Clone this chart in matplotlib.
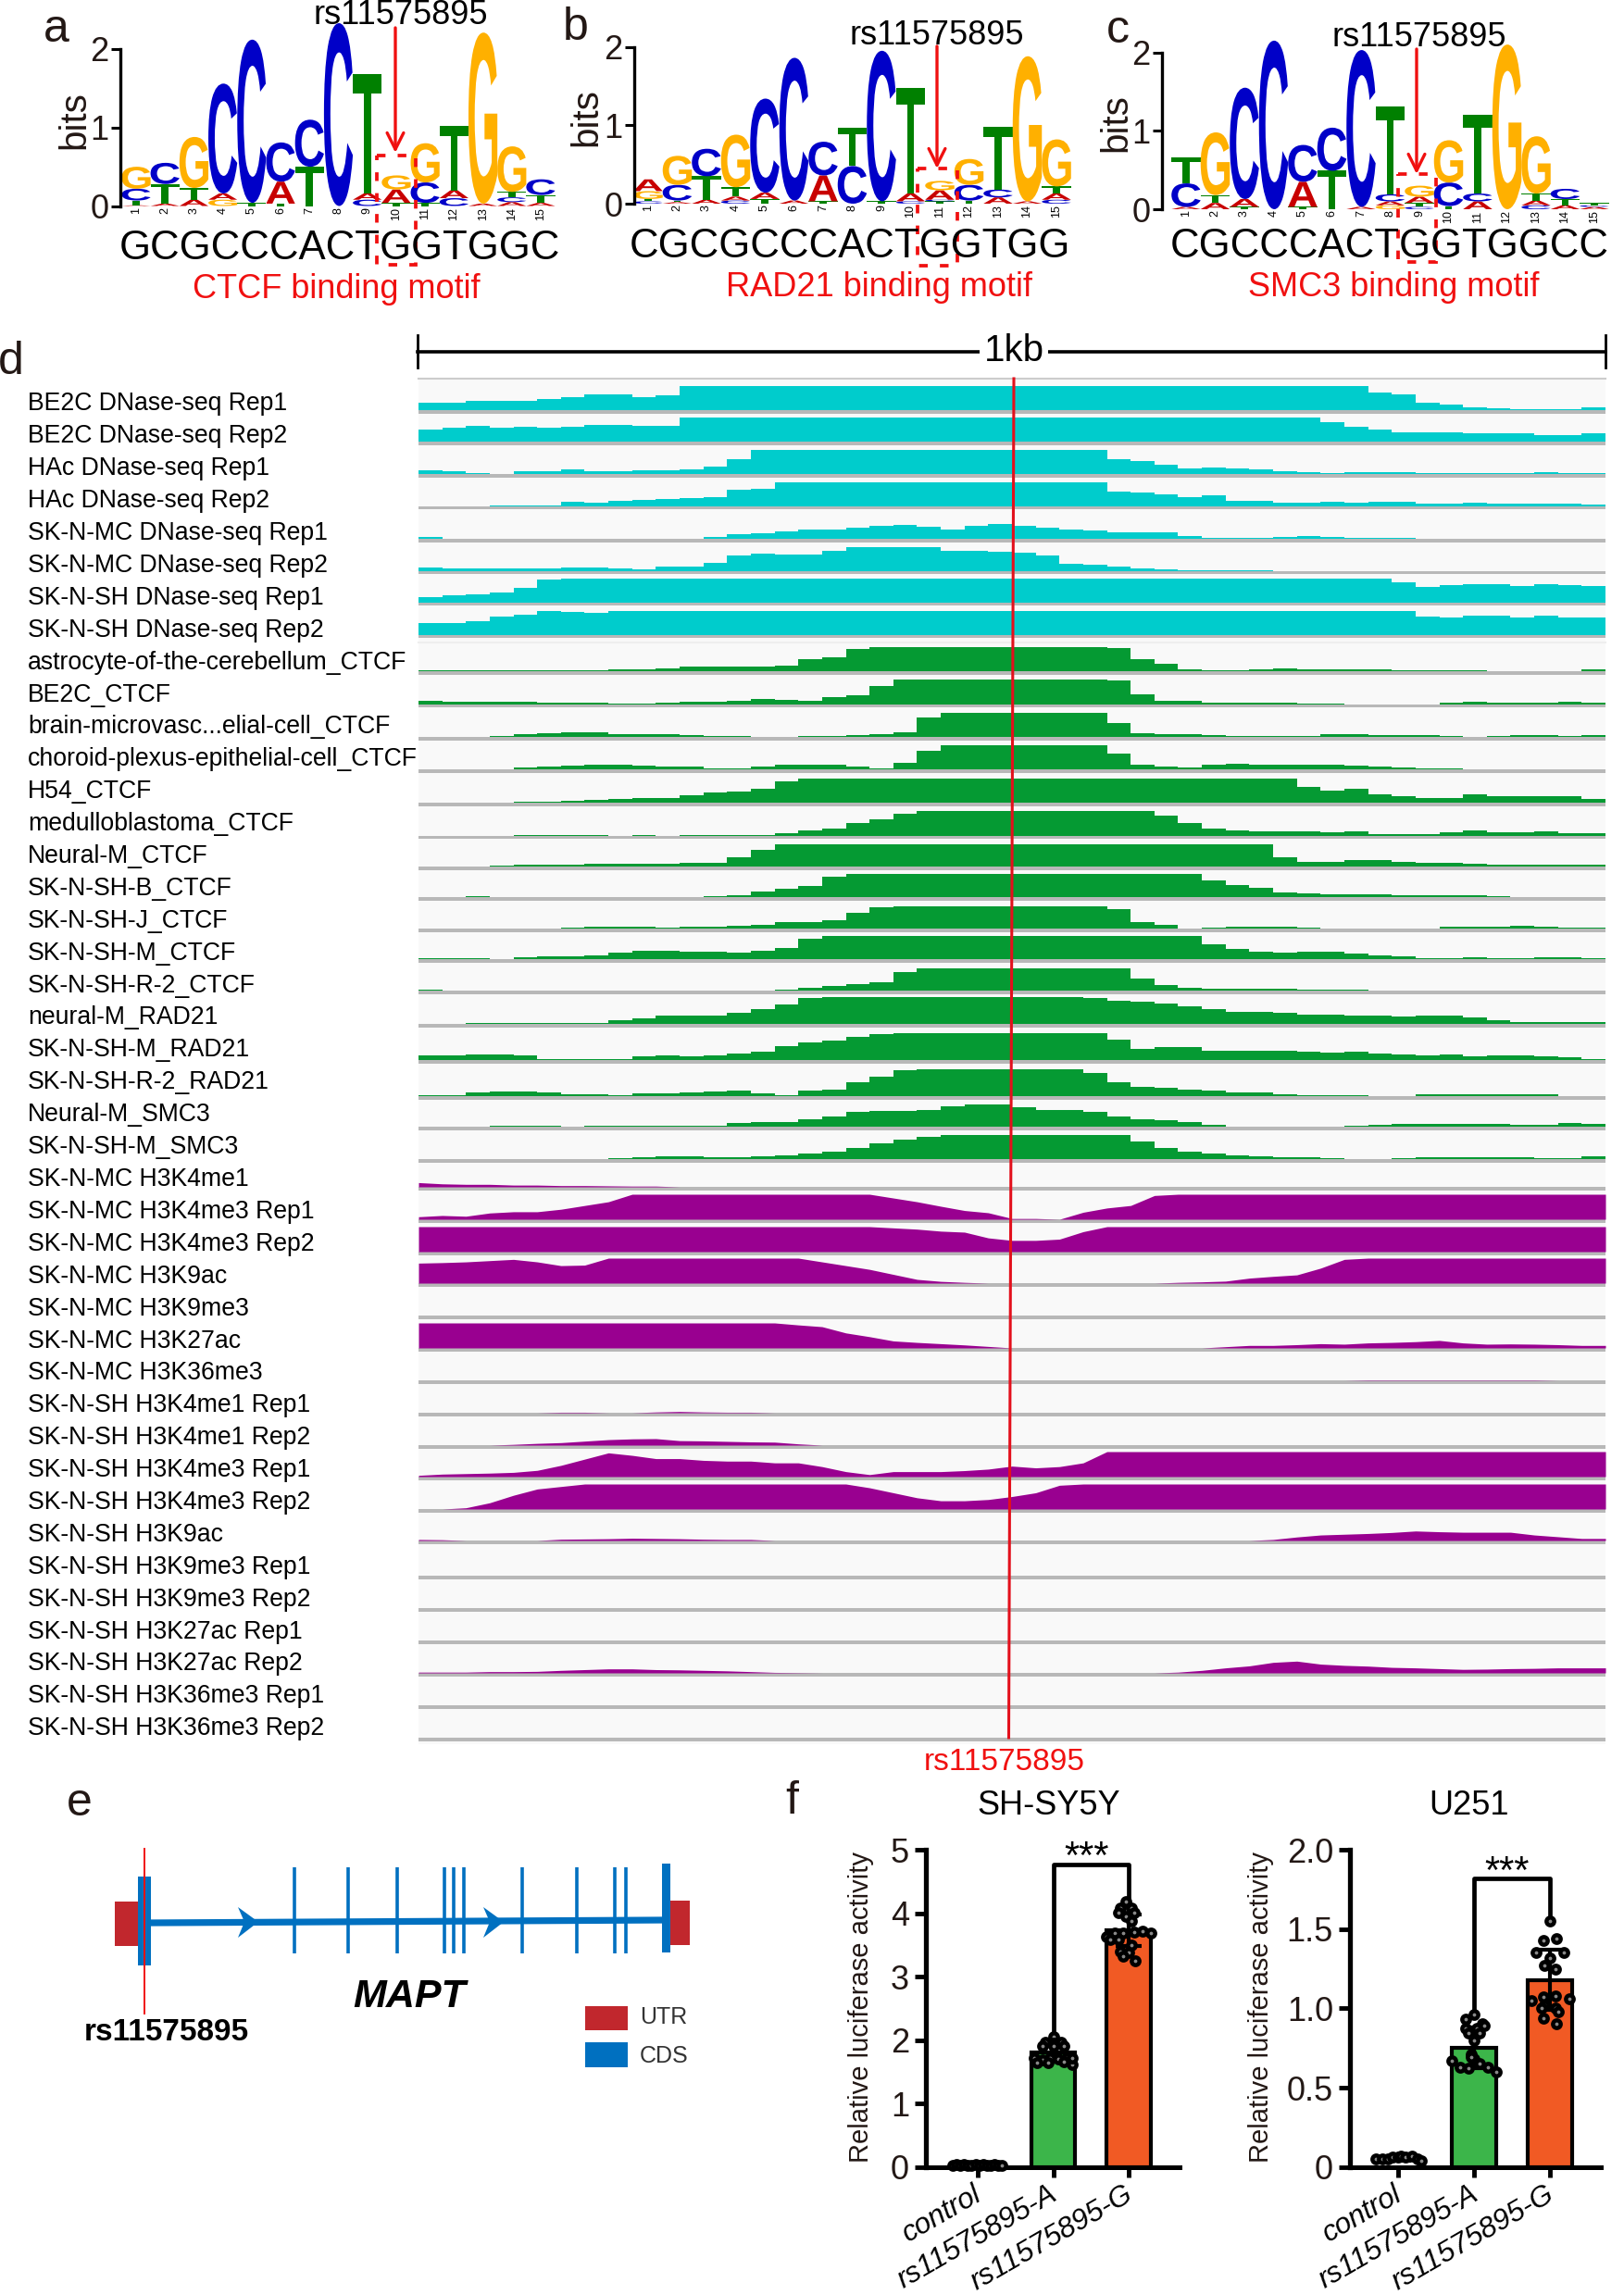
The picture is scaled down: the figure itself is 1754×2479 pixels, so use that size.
import numpy as np
import matplotlib
matplotlib.use("Agg")
import matplotlib.pyplot as plt
from matplotlib.textpath import TextPath
from matplotlib.patches import PathPatch, Rectangle, Polygon
from matplotlib.font_manager import FontProperties
from matplotlib.transforms import Affine2D, ScaledTranslation

plt.rcParams['font.family'] = ['Liberation Sans', 'DejaVu Sans']
W, H = 1754, 2479
F = 1.0

# ---------- motif data (letter, bits), bottom to top ----------
motif_ctcf = [
    [('A',.01),('T',.06),('C',.15),('G',.28)],
    [('A',.03),('T',.25),('C',.27)],
    [('A',.08),('T',.15),('G',.65)],
    [('G',.08),('A',.08),('C',1.4)],
    [('T',.04),('C',2.08)],
    [('T',.03),('A',.28),('C',.5)],
    [('T',.5),('C',.6)],
    [('C',2.33)],
    [('C',.08),('A',.08),('T',1.52)],
    [('T',.04),('A',.17),('G',.18)],
    [('T',.04),('C',.26),('G',.5)],
    [('C',.1),('A',.1),('T',.82)],
    [('A',.03),('G',2.18)],
    [('A',.05),('C',.06),('T',.07),('G',.58)],
    [('A',.04),('T',.1),('C',.2)],
]
motif_rad21 = [
    [('C',.03),('T',.03),('G',.1),('A',.15)],
    [('A',.02),('T',.02),('C',.2),('G',.37)],
    [('A',.05),('T',.3),('C',.35)],
    [('C',.04),('A',.05),('T',.12),('G',.67)],
    [('T',.06),('A',.08),('C',1.2)],
    [('A',.04),('C',1.82)],
    [('T',.03),('A',.33),('C',.43)],
    [('C',.48),('T',.49)],
    [('T',.03),('C',1.92)],
    [('C',.03),('A',.1),('T',1.35)],
    [('T',.03),('C',.02),('A',.12),('G',.12)],
    [('T',.04),('C',.2),('G',.33)],
    [('A',.08),('C',.1),('T',.8)],
    [('A',.03),('G',1.85)],
    [('C',.05),('A',.08),('T',.09),('G',.6)],
]
motif_smc3 = [
    [('A',.03),('C',.3),('T',.33)],
    [('A',.08),('T',.1),('G',.8)],
    [('T',.03),('A',.1),('C',1.42)],
    [('C',2.15)],
    [('T',.03),('A',.32),('C',.47)],
    [('T',.49),('C',.55)],
    [('A',.03),('C',2.0)],
    [('G',.05),('A',.05),('C',.09),('T',1.12)],
    [('C',.03),('T',.05),('A',.08),('G',.14)],
    [('T',.04),('C',.3),('G',.54)],
    [('A',.1),('C',.1),('T',1.0)],
    [('G',2.1)],
    [('C',.05),('A',.06),('T',.09),('G',.73)],
    [('A',.05),('T',.08),('C',.13)],
    [('A',.03),('C',.02),('T',.03)],
]
seq_ctcf = "GCGCCCACTGGTGGC"
seq_rad21 = "CGCGCCCACTGGTGG"
seq_smc3 = "CGCCCACTGGTGGCC"
snp = "rs11575895"
positions = list(range(1, 16))
bit_ticks = [0, 1, 2]
letter_colors = {'A': '#c80000', 'C': '#0000c8', 'G': '#ffb000', 'T': '#008000'}

# ---------- track data (fraction of the track's full height, saturated = F) ----------
track_names = [
 "BE2C DNase-seq Rep1","BE2C DNase-seq Rep2","HAc DNase-seq Rep1","HAc DNase-seq Rep2",
 "SK-N-MC DNase-seq Rep1","SK-N-MC DNase-seq Rep2","SK-N-SH DNase-seq Rep1","SK-N-SH DNase-seq Rep2",
 "astrocyte-of-the-cerebellum_CTCF","BE2C_CTCF","brain-microvasc...elial-cell_CTCF",
 "choroid-plexus-epithelial-cell_CTCF","H54_CTCF","medulloblastoma_CTCF","Neural-M_CTCF",
 "SK-N-SH-B_CTCF","SK-N-SH-J_CTCF","SK-N-SH-M_CTCF","SK-N-SH-R-2_CTCF","neural-M_RAD21",
 "SK-N-SH-M_RAD21","SK-N-SH-R-2_RAD21","Neural-M_SMC3","SK-N-SH-M_SMC3",
 "SK-N-MC H3K4me1","SK-N-MC H3K4me3 Rep1","SK-N-MC H3K4me3 Rep2","SK-N-MC H3K9ac","SK-N-MC H3K9me3",
 "SK-N-MC H3K27ac","SK-N-MC H3K36me3","SK-N-SH H3K4me1 Rep1","SK-N-SH H3K4me1 Rep2",
 "SK-N-SH H3K4me3 Rep1","SK-N-SH H3K4me3 Rep2","SK-N-SH H3K9ac","SK-N-SH H3K9me3 Rep1",
 "SK-N-SH H3K9me3 Rep2","SK-N-SH H3K27ac Rep1","SK-N-SH H3K27ac Rep2","SK-N-SH H3K36me3 Rep1",
 "SK-N-SH H3K36me3 Rep2"]

dnase = [
 [.3,.3,.37,.37,.4,.47,.55,.64,.64,.55,.62]+[F]*29+[.75,.67,.3,.24,.1,.08,.05,.05,.05,.12],
 [.5,.6,.68,.6,.65,.6,.65,.72,.7,.68,.68]+[F]*27+[.82,.65,.5,.4,.4,.4,.35,.35,.38,.27,.27,.35],
 [.14,.1,.04,0,.1,.13,.2,.13,.13,.17,.17,.2,.3,.6]+[F]*15+[.62,.55,.38,.22,.28,.24,.2,.12,.08,.04,.07,.07,.07,.03,.02,.02,.02,.02,.06,.02,.02],
 [0,0,0,.03,.03,.03,.18,.15,.22,.27,.3,.33,.36,.68,.72]+[F]*14+[.62,.55,.5,.38,.46,.22,.22,.15,.15,.17,.15,.2,.17,.12,.12,.15,.12,.12,.1,.1,.05],
 [.06,0,0,0,0,0,0,0,0,0,0,0,.07,.2,.25,.3,.38,.38,.47,.52,.56,.5,.4,.52,.6,.52,.47,.38,.35,.27,.27,.27,.1,.03,.05,.03,.07,.1,.08,.04,.04,.03,0,0,0,0,0,0,0,0],
 [.14,.1,.1,.1,.1,.1,.14,.14,.1,.05,.2,.2,.35,.65,.72,.7,.7,.85,F,F,F,F,.85,.85,.8,.75,.65,.28,.24,.2,.12,.05,.03,.03,.04,.02]+[0]*14,
 [.2,.3,.33,.4,.6,.95]+[F]*35+[.85,.62,.72,.75,.75,.68,.75,.72,.68],
 [.47,.5,.55,.75,.85,F,.95,.9]+[F]*34+[.75,.7,.78,.78,.72,.78,.7,.7],
]
ctcf_rad21_smc3 = [
 [.02,.02,.02,.05,.05,.03,.05,.05,.07,.08,.1,.17,.18,.17,.2,.22,.5,.55,.9]+[F]*10+[.95,.5,.3,.08,.04,.04,.06,.1,.09,.08,.08,.09,.04,.04,.02,.02,0,0,0,0,.07],
 [.12,.1,.08,.1,.1,.07,.05,.05,.03,.02,.06,.1,.11,.15,.2,.17,.15,.3,.35,.75]+[F]*9+[.95,.4,.15,.13,.07,.07,.05,.05,.04,.03,0,0,0,0,.05,.08,.07,.05,.06,.08,.06],
 [0,0,0,.05,.1,.15,.2,.18,.12,.1,.1,.06,.05,.03,.01,0,.03,.03,.06,.1,.2,.8]+[F]*7+[.55,.15,.12,.1,.08,.05,.03,.02,.05,.1,.12,.08,.08,.06,.02,0,.05,.07,.06,.05,.07],
 [0,0,0,.01,.08,.12,.15,.2,.18,.14,.13,.1,.02,.02,.13,.17,.2,.18,.1,.03,.25,.75]+[F]*7+[.65,.2,.1,.08,.2,.22,.2,.2,.2,.17,.15,.12,.06,.03,.02,.01,0,0,0,0,0],
 [0,0,0,0,.03,.03,.08,.1,.15,.18,.2,.3,.4,.47,.55,.85]+[F]*21+[.65,.5,.55,.35,.25,.2,.2,.35,.25,.28,.28,.25,.15],
 [0,0,0,0,.01,.01,.02,.02,0,.03,0,.03,.03,.03,.03,.1,.2,.3,.5,.65,.9]+[F]*10+[.8,.5,.3,.2,.17,.18,.17,.15,.18,.07,.07,.07,.12,.2,.12,.13,.17,.1,.1],
 [.02,.02,.02,.04,.07,.08,.1,.12,.14,.13,.14,.15,.18,.4,.75]+[F]*21+[.4,.2,.2,.27,.28,.2,.17,.16,.13,.1,.07,.07,.07,.1],
 [0,0,.05,0,0,0,0,0,0,0,0,0,.03,.1,.25,.35,.5,.9]+[F]*15+[.75,.55,.4,.2,.18,.12,.12,.12,.1,.09,.08,.07,.05,0,0,0,0],
 [0,0,0,0,0,0,.05,.08,.1,.08,.05,.07,.1,.13,.17,.3,.3,.35,.7,.95]+[F]*9+[.85,.3,.15,.02,.03,.1,.1,.08,.03,0,0,0,.02,.02,.07,.08,.08,.12,.08,.03,.03],
 [.05,.05,.04,.01,.07,.12,.12,.17,.3,.35,.35,.33,.33,.3,.35,.5,.9]+[F]*16+[.65,.45,.33,.28,.33,.33,.25,.15,.12,.05,.05,.08,.05,.05,.08,.07,.04],
 [.05]+[0]*14+[.05,.12,.2,.3,.35,.8]+[F]*9+[.55,.25,.12,.1,.07,.08,.1,.05,.04,.03,.02,.02,0,0,0,0,0,0,0,0],
 [0,0,.02,.02,.02,.02,.02,.03,.15,.22,.3,.32,.3,.4,.55,.7,.95]+[F]*11+[.95,.85,.8,.75,.65,.55,.45,.45,.42,.35,.33,.3,.3,.26,.3,.3,.25,.12,.08,.08,.08,.08],
 [.17,.18,.2,.2,.18,.02,.05,.02,.03,.13,.18,.12,.16,.25,.3,.5,.65,.7,.85,.95]+[F]*9+[.75,.42,.48,.48,.35,.35,.35,.35,.3,.27,.3,.25,.2,.18,.2,.15,.18,.18,.15,.1,.05],
 [.03,.05,.13,.17,.18,.12,.08,.08,.03,.1,.1,.13,.17,.2,.1,.05,.2,.25,.5,.7,.95]+[F]*7+[.85,.5,.35,.3,.25,.22,.15,.13,.06,.03,.05,.03,0,0,.07,.08,.08,.08,.08,.08,0,0],
 [0,0,0,.03,.06,.06,.02,.03,.06,.06,.06,.06,.06,.15,.22,.22,.32,.45,.65,.68,.68,.72,.88,.98,F,.85,.75,.72,.65,.45,.33,.27,.2,.08,0,0,0,0,0,.03,.1,.13,.13,.11,.12,.12,.09,.1,.17,.12],
 [0,0,0,0,0,0,0,0,.03,.07,.12,.1,.06,.08,.1,.15,.22,.3,.45,.65,.8,.92]+[F]*8+[.75,.45,.3,.25,.15,.12,.08,.06,.02,0,0,.05,.07,.08,.07,.07,.06,.05,.03,.1],
]
histone = [
 [.17,.12,.1,.1,.07,.07,.05,.05,.04,.03,.03]+[0]*39,
 [.1,.15,.12,.25,.3,.3,.4,.55,.7]+[F]*11+[.85,.7,.52,.35,.26,.03,.03,0,.28,.45,.55,.95]+[F]*18,
 [F]*20+[.95,.9,.82,.78,.55,.45,.45,.5,.8]+[F]*21,
 [.8,.82,.85,.9,.95,.85,.7,.72]+[F]*9+[.85,.7,.55,.35,.15,.07,.03]+[0]*8+[.03,.05,.08,.2,.27,.33,.6,.95]+[F]*10,
 [0]*50,
 [F]*16+[.92,.85,.6,.45,.28,.22,.17,.12,.06]+[0]*9+[.05,.1,.1,.13,.17,.15,.2,.22,.25,.3,.2,.15,.16,.15,.13,.1],
 [0]*40+[.015]*8+[0,0],
 [0]*6+[.02,.02,0,0,.03,.05,.03,.02,.02]+[0]*35,
 [0,0,0,0,.03,.07,.1,.16,.22,.25,.26,.18,.17,.15,.13,.12,.05]+[0]*33,
 [.05,.1,.12,.14,.17,.25,.45,.7,.95,.85,.72,.72,.65,.62,.62,.55,.55,.4,.2,.08,.2,.2,.2,.24,.3,.42,.35,.4,.55]+[F]*21,
 [0,0,.05,.25,.55,.8,.9]+[F]*12+[.85,.65,.45,.33,.33,.38,.5,.65,.95]+[F]*22,
 [.04,.03,0,0,0,0,.05,.06,.07,.09,.08,.07,.05,.04,.04]+[0]*21+[.04,.14,.22,.25,.28,.32,.38,.35,.33,.33,.33,.22,.15,.08],
 [0]*50,
 [0]*50,
 [0]*50,
 [.03,.03,.03,.05,.05,.06,.1,.13,.16,.16,.13,.12,.1,.08,.05,.02,.01]+[0]*15+[.03,.1,.2,.28,.42,.47,.35,.3,.27,.22,.2,.17,.14,.15,.17,.18,.2,.2],
 [0]*50,
 [0]*50,
]
track_groups = [(dnase, '#00cccc', 'step'), (ctcf_rad21_smc3, '#059a33', 'step'), (histone, '#990090', 'line')]

# ---------- gene model: exon positions along the transcript ----------
exon_x = [318, 376, 429, 480, 490, 501, 564, 623, 664, 676]

# ---------- luciferase data ----------
bar_labels = ["control", "rs11575895-A", "rs11575895-G"]
sy_means = [0.03, 1.80, 3.73]
sy_sd = [0.01, 0.12, 0.25]
sy_ctrl_x = [-.33,-.28,-.23,-.18,-.13,-.08,-.03,.02,.07,.12,.17,.22,.27,.32]
sy_ctrl_y = [.03,.04,.03,.04,.03,.03,.04,.03,.04,.03,.03,.04,.03,.03]
sy_a_x = [0,-.11,.11,0,-.14,.14,0,-.25,-.14,-.04,.07,.18,-.21,-.07,.14,.25,.25]
sy_a_y = [2.06,1.97,1.97,1.95,1.91,1.91,1.9,1.71,1.69,1.71,1.7,1.72,1.64,1.65,1.66,1.61,1.71]
sy_g_x = [-.04,-.11,.04,-.14,.07,-.04,.04,-.29,-.18,-.07,.07,.18,.29,-.25,-.14,-.11,0,-.07,.09,.04]
sy_g_y = [4.18,4.08,4.08,4.01,4.01,3.95,3.87,3.63,3.69,3.68,3.7,3.71,3.69,3.59,3.59,3.4,3.38,3.32,3.25,3.5]
u_means = [0.05, 0.75, 1.18]
u_sd = [0.01, 0.13, 0.19]
u_ctrl_x = [-.29,-.21,-.14,-.07,0,.04,.1,.18,.25,.3]
u_ctrl_y = [.05,.05,.05,.06,.06,.07,.06,.07,.05,.04]
u_a_x = [0,-.11,.11,-.11,.04,.14,-.07,.07,0,-.04,0,-.29,-.18,-.07,.07,.18,.29,-.04]
u_a_y = [.96,.93,.9,.875,.875,.89,.845,.845,.8,.71,.68,.67,.63,.62,.65,.63,.6,.69]
u_g_x = [0,-.09,.09,-.18,.18,0,-.07,.07,-.25,-.09,.07,.25,-.07,.07,-.09,.09,.11,-.11]
u_g_y = [1.55,1.43,1.44,1.35,1.35,1.32,1.27,1.25,1.05,1.07,1.08,1.06,1.02,1.0,.94,.9,.98,1.0]

fig = plt.figure(figsize=(W/100, H/100), dpi=100)

def px_axes(x0, y0, x1, y1, z=1):
    return fig.add_axes([x0/W, 1-y1/H, (x1-x0)/W, (y1-y0)/H], zorder=z)

bg = px_axes(0, 0, W, H, 0); bg.set_xlim(0, W); bg.set_ylim(H, 0); bg.axis('off')
top = px_axes(0, 0, W, H, 20); top.set_xlim(0, W); top.set_ylim(H, 0); top.axis('off'); top.patch.set_alpha(0)

# ---------- sequence logos ----------
fp = FontProperties(family='Liberation Sans', weight='bold')
glyphs = {c: TextPath((0, 0), c, size=1, prop=fp) for c in 'ACGT'}

def logo(motif, x_axis, y0, y2, x_pos1, x_pos15, x_end):
    unit = (x_pos15-x_pos1)/14
    per_bit = (y0-y2)/2
    y_top = 5
    ax = px_axes(x_axis, y_top, x_end, y0, 3)
    ax.patch.set_alpha(0)
    ax.set_xlim(1-(x_pos1-x_axis)/unit, 1+(x_end-x_pos1)/unit)
    ax.set_ylim(0, (y0-y_top)/per_bit)
    for i, stack in enumerate(motif):
        b = 0
        for c, h in stack:
            g = glyphs[c]; bb = g.get_extents()
            w = 1.0
            tr = Affine2D().translate(-bb.x0, -bb.y0).scale(w/bb.width, h/bb.height).translate(i+1-w/2, b)
            ax.add_patch(PathPatch(g.transformed(tr), fc=letter_colors[c], ec='none', lw=0, clip_on=False))
            b += h
    for s in ['top', 'right', 'bottom']:
        ax.spines[s].set_visible(False)
    ax.spines['left'].set_bounds(0, 2)
    ax.spines['left'].set_linewidth(2.4)
    ax.set_yticks(bit_ticks)
    ax.tick_params(axis='y', length=7, width=2.2, labelsize=26, pad=2, labelcolor='#231815')
    ax.set_xticks(positions)
    ax.set_xticklabels(positions, rotation=90, fontsize=9, ha='center', va='top')
    ax.tick_params(axis='x', length=0, pad=1)
    return ax

logo(motif_ctcf, 130, 222.5, 53, 147, 584, 620)
logo(motif_rad21, 685, 220, 50.6, 700, 1141, 1170)
logo(motif_smc3, 1255, 226, 56.6, 1281, 1722, 1750)

def txt(x, y, s, size, color='k', **kw):
    kw.setdefault('ha', 'center'); kw.setdefault('va', 'center')
    top.text(x, y, s, fontsize=size, color=color, **kw)

RED = '#f01010'
panel_info = [
    (seq_ctcf, 367, 269, 433, 17, "CTCF binding motif", 363, 313, (407, 168, 449, 286), 427, 30, 165, 'a', 61, 32, 80, 130),
    (seq_rad21, 918, 266, 1012, 38, "RAD21 binding motif", 949, 311, (991, 182, 1034, 287), 1012, 50, 182, 'b', 622, 30, 633, 127),
    (seq_smc3, 1501, 267, 1533, 41, "SMC3 binding motif", 1505, 311, (1510, 188, 1551, 283), 1530, 53, 188, 'c', 1207, 33, 1205, 133),
]
for seq, sx, sy, rx, ry, lab, lx, ly, box, ax_x, a0, a1, pl, plx, ply, bx, by in panel_info:
    txt(sx, sy, seq, 31.5)
    txt(rx, ry, snp, 26)
    txt(lx, ly, lab, 26, RED)
    top.add_patch(Rectangle((box[0], box[1]), box[2]-box[0], box[3]-box[1], fill=False, ec=RED,
                            lw=2.7, ls=(0, (2.5, 3.5))))
    top.annotate('', xy=(ax_x, a1), xytext=(ax_x, a0),
                 arrowprops=dict(arrowstyle='->', color=RED, lw=2.4, mutation_scale=32, shrinkA=0, shrinkB=0))
    txt(plx, ply, pl, 36, '#231815')
    txt(bx, by, 'bits', 29, '#231815', rotation=90)

# ---------- panel d ----------
txt(12, 391, 'd', 36, '#231815')
TX0, TX1 = 452, 1734
baselines = [443,477.4,512,546.7,582,616.7,650.6,685.6,725,760.6,796,831,867,902.6,936,969,1003,1036,1070,1106,
             1145,1184,1217,1252,1282,1317,1352,1386,1421,1456,1491,1526,1561,1595,1630,1664,1702,1737,1772,1807,1842,1877]
full_heights = [26]*8+[26.5]*6+[24.5]*5+[29.5]*3+[24.5,26]+[27]*18
bg.add_patch(Rectangle((TX0, 409), TX1-TX0, 1884-409, fc='#f9f9f9', ec='none'))
bg.plot([TX0, TX1], [409, 409], color='#cccccc', lw=1.5)
bg.plot([TX0, TX1], [694, 694], color='#eeeeee', lw=1.5)
all_tracks = [(v, c, m) for grp, c, m in track_groups for v in grp]
for i, (name, (vals, col, mode)) in enumerate(zip(track_names, all_tracks)):
    base = baselines[i]
    bg.add_patch(Rectangle((TX0, base), TX1-TX0, 3.6, fc='#b8b8b8', ec='none'))
    t = px_axes(TX0, base-full_heights[i], TX1, base, 2)
    t.axis('off'); t.patch.set_alpha(0)
    t.set_xlim(0, 1); t.set_ylim(0, 1)
    v = np.array(vals, float)
    e = np.arange(len(v)+1)/len(v)
    if mode == 'step':
        t.fill_between(e, np.append(v, v[-1]), step='post', color=col, lw=0)
    else:
        t.fill_between(e, np.append(v, v[-1]), color=col, lw=0)
    txt(30, 436.4+34.9*i, name, 19.2, ha='left')

top.plot([1095, 1089.5], [409, 1877], color='#e3101c', lw=2.2)
txt(1085, 1903, snp, 24, RED)
top.plot([451, 1734], [380, 380], color='k', lw=2.6)
top.plot([451, 451], [362, 397], color='k', lw=2)
top.plot([1734, 1734], [362, 397], color='k', lw=2)
txt(1095, 379, '1kb', 29, bbox=dict(fc='w', ec='none', pad=3))

# ---------- panel e ----------
txt(86, 1948, 'e', 36, '#231815')
UTRC, CDSC = '#c1272d', '#0070c0'
top.add_patch(Rectangle((124, 2054), 27, 48, fc=UTRC, ec='none'))
top.add_patch(Rectangle((724, 2053), 21, 48, fc=UTRC, ec='none'))
top.plot([163, 717], [2077, 2074], color=CDSC, lw=5.2)
top.add_patch(Rectangle((149, 2027), 14, 96, fc=CDSC, ec='none'))
top.add_patch(Rectangle((715, 2013), 9, 96, fc=CDSC, ec='none'))
for x in exon_x:
    top.plot([x, x], [2017, 2110], color=CDSC, lw=2.6, solid_capstyle='butt')
for xa in (257, 522):
    top.add_patch(Polygon([(xa, 2060), (xa+22, 2076), (xa, 2093), (xa+7, 2076)], fc=CDSC, ec='none'))
top.plot([156, 156], [1997, 2175], color='#f01010', lw=1.4)
txt(180, 2195, snp, 24, fontweight='bold')
txt(442, 2157, 'MAPT', 31, fontweight='bold', fontstyle='italic')
top.add_patch(Rectangle((632, 2167), 46, 26, fc=UTRC, ec='none'))
top.add_patch(Rectangle((632, 2206), 46, 27, fc=CDSC, ec='none'))
txt(691, 2179, 'UTR', 18, '#333333', ha='left')
txt(691, 2221, 'CDS', 18, '#333333', ha='left')

# ---------- panel f ----------
txt(855, 1946, 'f', 36, '#231815')
def lucif(x_axis, x_right, x_ctrl, x_g, means, sds, pts, yticks, yticklabels, ymax, brk, title, title_x, stars_y, ylab_x):
    y0, y1 = 2340.7, 1998
    unit = (x_g-x_ctrl)/2
    ax = px_axes(x_axis, y1, x_right, y0, 4)
    ax.patch.set_alpha(0)
    ax.set_xlim(-(x_ctrl-x_axis)/unit, (x_right-x_ctrl)/unit)
    ax.set_ylim(0, ymax)
    cols = ['#ffffff', '#3cb54a', '#f15a24']
    ax.bar([1, 2], means[1:], width=.58, color=cols[1:], edgecolor='k', linewidth=3, zorder=2)
    ax.errorbar(range(3), means, yerr=sds, fmt='none', ecolor='k', elinewidth=3, capsize=10, capthick=3, zorder=3)
    for i, (xs, ys) in enumerate(pts):
        ax.scatter(np.array(xs)+i, ys, s=36, facecolor='#888888', edgecolor='k', linewidth=3.2, zorder=4, clip_on=False)
    ax.plot([1, 1, 2, 2], brk, color='k', lw=3.4, solid_joinstyle='round', zorder=3)
    for s in ['top', 'right']:
        ax.spines[s].set_visible(False)
    ax.spines['left'].set_linewidth(3.8); ax.spines['bottom'].set_linewidth(3.6)
    ax.set_yticks(yticks); ax.set_yticklabels(yticklabels)
    ax.tick_params(axis='y', length=9, width=3.5, labelsize=26, pad=4, labelcolor='#231815')
    ax.set_xticks(range(3))
    ax.tick_params(axis='x', length=8, width=3.5, pad=12)
    ax.set_xticklabels(bar_labels, rotation=30, ha='right', va='center', rotation_mode='anchor', fontsize=22.5, fontstyle='italic')
    shift = ScaledTranslation(2/100, 0, fig.dpi_scale_trans)
    for lb in ax.get_xticklabels():
        lb.set_transform(lb.get_transform()+shift)
    txt(title_x, 1950, title, 26)
    txt((x_ctrl+x_g)/2+36, stars_y, '***', 30)
    txt(ylab_x, 2168, 'Relative luciferase activity', 21, '#231815', rotation=90)

lucif(1000, 1274, 1056, 1219, sy_means, sy_sd,
      [(sy_ctrl_x, sy_ctrl_y), (sy_a_x, sy_a_y), (sy_g_x, sy_g_y)],
      [0, 1, 2, 3, 4, 5], ['0', '1', '2', '3', '4', '5'], 5, [2.1, 4.77, 4.77, 4.26], 'SH-SY5Y', 1133, 2007, 930)
lucif(1458, 1729, 1510, 1674, u_means, u_sd,
      [(u_ctrl_x, u_ctrl_y), (u_a_x, u_a_y), (u_g_x, u_g_y)],
      [0, .5, 1, 1.5, 2], ['0', '0.5', '1.0', '1.5', '2.0'], 2, [.97, 1.82, 1.82, 1.59], 'U251', 1586, 2023, 1362)

fig.savefig('out.png', dpi=100)
